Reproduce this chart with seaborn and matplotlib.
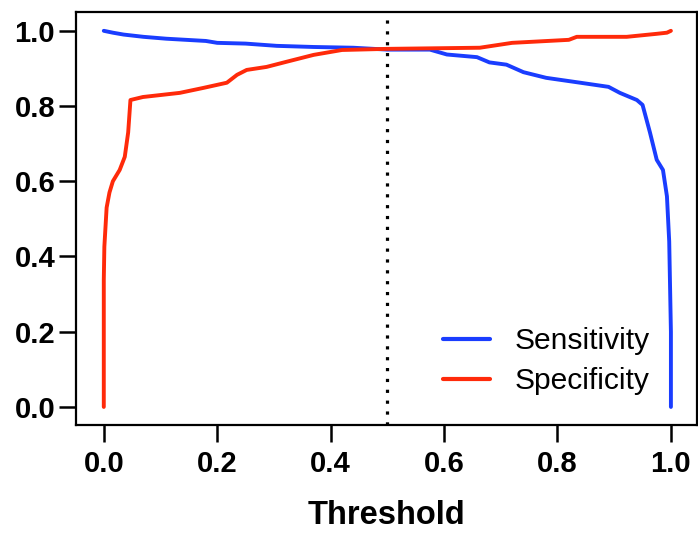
import matplotlib
matplotlib.use("Agg")
import matplotlib.pyplot as plt
import seaborn as sns
import pandas as pd
from matplotlib.ticker import FormatStrFormatter

# Data
sens_threshold = [0.0, 0.016, 0.035, 0.07, 0.11, 0.18, 0.2, 0.25, 0.305, 0.37, 0.44, 0.5,
                  0.575, 0.605, 0.658, 0.68, 0.71, 0.74, 0.78, 0.84, 0.89, 0.91, 0.94,
                  0.95, 0.963, 0.975, 0.986, 0.993, 0.997, 1.0, 1.0]
sensitivity = [1.0, 0.995, 0.99, 0.984, 0.979, 0.973, 0.968, 0.966, 0.96, 0.957, 0.955, 0.95,
               0.95, 0.937, 0.93, 0.916, 0.91, 0.89, 0.875, 0.862, 0.851, 0.835, 0.816,
               0.803, 0.73, 0.657, 0.63, 0.56, 0.44, 0.2, 0.0]

spec_threshold = [0.0, 0.0, 0.001, 0.005, 0.01, 0.016, 0.028, 0.037, 0.043, 0.047, 0.069,
                  0.134, 0.175, 0.217, 0.235, 0.252, 0.287, 0.323, 0.37, 0.42, 0.5,
                  0.663, 0.72, 0.82, 0.834, 0.922, 0.975, 0.993, 1.0]
specificity = [0.0, 0.338, 0.426, 0.53, 0.57, 0.6, 0.63, 0.665, 0.73, 0.816, 0.824,
               0.835, 0.848, 0.862, 0.883, 0.896, 0.904, 0.918, 0.936, 0.949, 0.952,
               0.955, 0.968, 0.976, 0.984, 0.984, 0.992, 0.995, 1.0]

cutoff = 0.5
tick_values = [0.0, 0.2, 0.4, 0.6, 0.8, 1.0]

df = pd.concat([
    pd.DataFrame({"Threshold": sens_threshold, "Value": sensitivity, "Metric": "Sensitivity"}),
    pd.DataFrame({"Threshold": spec_threshold, "Value": specificity, "Metric": "Specificity"}),
], ignore_index=True)

sns.set_style("ticks")
plt.rcParams["font.family"] = ["Liberation Sans", "DejaVu Sans"]
plt.rcParams["text.color"] = "black"
plt.rcParams["axes.labelcolor"] = "black"

fig = plt.figure(figsize=(6.98, 5.35), dpi=100)
ax = fig.add_axes([76 / 698, 1 - 425 / 535, (697 - 76) / 698, (425 - 12) / 535])

sns.lineplot(data=df, x="Threshold", y="Value", hue="Metric", units="Metric",
             estimator=None, sort=False,
             palette={"Sensitivity": "#1a3dff", "Specificity": "#ff2a0a"},
             linewidth=2.8, ax=ax)

ax.axvline(cutoff, color="black", linestyle=(0, (1, 2.4)), linewidth=2.3, zorder=0)

ax.set_xlim(-0.049, 1.046)
ax.set_ylim(-0.048, 1.05)
ax.set_xticks(tick_values)
ax.set_yticks(tick_values)
ax.xaxis.set_major_formatter(FormatStrFormatter("%.1f"))
ax.yaxis.set_major_formatter(FormatStrFormatter("%.1f"))

for s in ax.spines.values():
    s.set_linewidth(1.6)
    s.set_color("black")

ax.tick_params(axis="both", length=12, width=1.8, color="black",
               labelsize=21, labelcolor="black")
ax.tick_params(axis="x", pad=6)
ax.tick_params(axis="y", pad=3)
for lab in ax.get_xticklabels() + ax.get_yticklabels():
    lab.set_fontweight("bold")

ax.set_xlabel("Threshold", fontsize=23.5, fontweight="bold", labelpad=16, color="black")
ax.set_ylabel("")

handles, labels = ax.get_legend_handles_labels()
leg = ax.legend(handles, labels, loc="upper left", bbox_to_anchor=(443 / 698, 1 - 327 / 535),
                bbox_transform=fig.transFigure, frameon=False, fontsize=21.6,
                handlelength=1.57, handletextpad=0.83, labelspacing=0.4,
                borderpad=0, borderaxespad=0)
for line in leg.get_lines():
    line.set_linewidth(3.0)
for t in leg.get_texts():
    t.set_color("black")

fig.savefig("out.png", dpi=100)
